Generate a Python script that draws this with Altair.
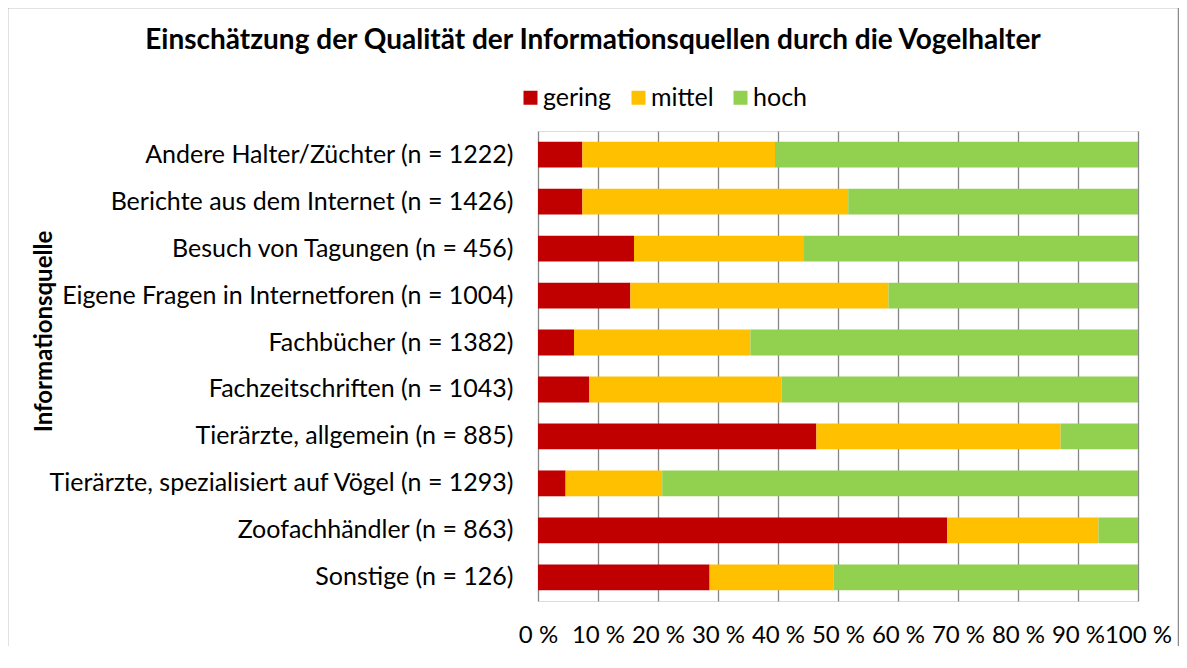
import altair as alt
import pandas as pd

categories = [
    "Andere Halter/Züchter (n = 1222)",
    "Berichte aus dem Internet (n = 1426)",
    "Besuch von Tagungen (n = 456)",
    "Eigene Fragen in Internetforen (n = 1004)",
    "Fachbücher (n = 1382)",
    "Fachzeitschriften (n = 1043)",
    "Tierärzte, allgemein (n = 885)",
    "Tierärzte, spezialisiert auf Vögel (n = 1293)",
    "Zoofachhändler (n = 863)",
    "Sonstige (n = 126)",
]
gering = [7.4, 7.4, 16.0, 15.4, 6.0, 8.5, 46.4, 4.6, 68.2, 28.6]
mittel = [32.1, 44.3, 28.2, 43.0, 29.4, 32.1, 40.7, 16.1, 25.2, 20.7]
hoch = [60.5, 48.3, 55.8, 41.6, 64.6, 59.4, 12.9, 79.3, 6.6, 50.7]
levels = ["gering", "mittel", "hoch"]
colors = ["#C00000", "#FFC000", "#92D050"]
ticks = [0, 10, 20, 30, 40, 50, 60, 70, 80, 90, 100]

rows = []
for i, c in enumerate(categories):
    for j, (lvl, vals) in enumerate(zip(levels, [gering, mittel, hoch])):
        rows.append({"Quelle": c, "Stufe": lvl, "Anteil": vals[i], "ord": j})
df = pd.DataFrame(rows)

FONT = "Lato"

bars = alt.Chart(df).mark_bar().encode(
    y=alt.Y("Quelle:N", sort=categories,
            scale=alt.Scale(paddingInner=0.45, paddingOuter=0.23),
            axis=alt.Axis(title="Informationsquelle", titleFont=FONT, titleFontSize=24,
                          titleFontWeight="bold", titleAngle=270, titleX=-494, titleY=200,
                          titleAlign="center", titleBaseline="middle",
                          labelFont=FONT, labelFontSize=25, labelColor="#000000",
                          labelPadding=25, ticks=False, domain=False, grid=False,
                          labelLimit=600)),
    x=alt.X("Anteil:Q", stack="zero",
            scale=alt.Scale(domain=[0, 100], nice=False),
            axis=alt.Axis(title=None, values=ticks, labelExpr="datum.value + ' %'",
                          labelFont=FONT, labelFontSize=24, labelColor="#000000",
                          labelPadding=22, ticks=False, domain=False, grid=True,
                          gridColor="#868686", gridWidth=1.3, gridOpacity=1,
                          labelOverlap=False, labelFlush=False)),
    color=alt.Color("Stufe:N", sort=levels,
                    scale=alt.Scale(domain=levels, range=colors),
                    legend=alt.Legend(title=None, orient="none", direction="horizontal",
                                      legendX=-20, legendY=-46, symbolType="square",
                                      symbolSize=196, symbolStrokeWidth=0, symbolOpacity=1,
                                      labelFont=FONT, labelFontSize=25, labelColor="#000000",
                                      labelOffset=0, columnPadding=14, padding=0)),
    order=alt.Order("ord:Q"),
)

border = alt.Chart(pd.DataFrame({"a": [0]})).mark_rect(
    fill=None, stroke="#8A8A8A", strokeWidth=1.5, clip=False
).encode(
    x=alt.value(-530.5), x2=alt.value(640.5), y=alt.value(-123.5), y2=alt.value(545)
)

chart = alt.layer(border, bars).properties(
    width=600, height=470,
    autosize=alt.AutoSizeParams(type="none"),
    padding={"left": 530, "top": 123, "right": 41, "bottom": 45},
    title=alt.TitleParams("Einschätzung der Qualität der Informationsquellen durch die Vogelhalter",
                          font=FONT, fontSize=28, fontWeight="bold", color="#000000",
                          anchor="middle", frame="bounds", offset=-62, baseline="middle"),
).configure_view(stroke=None).configure(background="#ffffff")

chart.save("out.html", embed_options={"renderer": "svg", "actions": False})
